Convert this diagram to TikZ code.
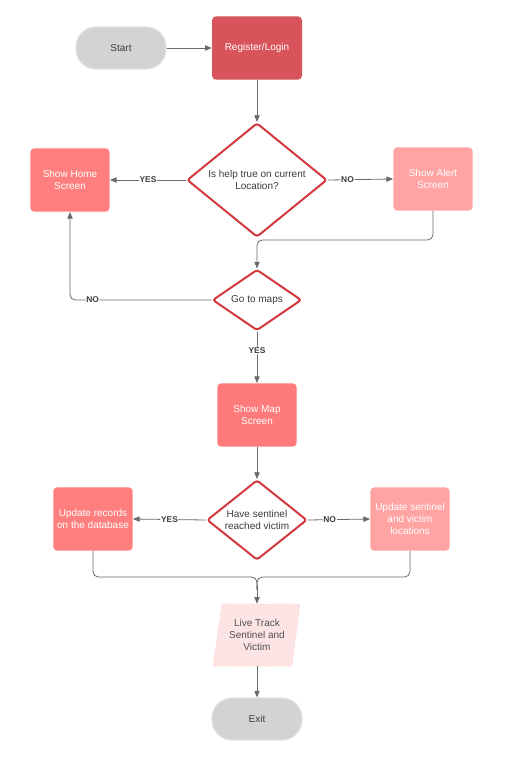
\documentclass[tikz,border=0pt]{standalone}
\usepackage{fontspec}
\setmainfont{Liberation Sans}
\usetikzlibrary{shapes.geometric,arrows.meta}
\definecolor{regred}{HTML}{D9545A}
\definecolor{salmon}{HTML}{FF7F7F}
\definecolor{pinkbox}{HTML}{FFA3A3}
\definecolor{mapred}{HTML}{FF7A7A}
\definecolor{livepink}{HTML}{FDE4E4}
\definecolor{termgray}{HTML}{D3D3D3}
\definecolor{termborder}{HTML}{E2E2E2}
\definecolor{dred}{HTML}{D2383E}
\definecolor{linegray}{HTML}{6A6A6A}
\definecolor{txtgray}{HTML}{3C3C3C}
\tikzset{
  boxtext/.style={font=\fontsize{7.5}{8.7}\selectfont, align=center},
  term/.style={boxtext, rectangle, rounded corners=15pt, fill=termgray, draw=termborder, line width=0.8pt,
    minimum width=67.5pt, minimum height=31.5pt, inner sep=0pt, text=txtgray},
  procbox/.style={boxtext, rectangle, rounded corners=3pt, inner sep=0pt, text=white,
    minimum width=59.5pt, minimum height=47.5pt},
  decision/.style={diamond, draw=dred, line width=1.5pt, fill=white, rounded corners=2pt, inner sep=0pt},
  dtext/.style={boxtext, text=txtgray},
  conn/.style={draw=linegray, line width=0.6pt, rounded corners=4pt},
  arr/.style={conn, -{Triangle[length=5pt,width=4pt]}},
  lbl/.style={font=\fontsize{6.3}{7}\selectfont\bfseries, text=txtgray, fill=white, inner sep=0.6pt}
}
\begin{document}
\begin{tikzpicture}[x=0.75pt,y=-0.75pt]
\useasboundingbox (0,0) rectangle (506,764);
\fill[white] (0,0) rectangle (506,764);

% nodes
\node[term] (start) at (121,48) {Start};
\node[procbox, fill=regred, minimum width=67.5pt] (reg) at (257,48) {Register/Login};
\node[decision, minimum width=105pt, minimum height=85.5pt] (d1) at (257,180) {};
\node[dtext] at (d1.center) {Is help true on current\\Location?};
\node[procbox, fill=salmon] (home) at (70,180) {Show Home\\Screen};
\node[procbox, fill=pinkbox] (alert) at (433,179) {Show Alert\\Screen};
\node[decision, minimum width=66.75pt, minimum height=45.75pt] (d2) at (257,300) {};
\node[dtext] at (d2.center) {Go to maps};
\node[procbox, fill=mapred] (map) at (257,415) {Show Map\\Screen};
\node[decision, minimum width=75pt, minimum height=60pt] (d3) at (257,520) {};
\node[dtext] at (d3.center) {Have sentinel\\reached victim};
\node[procbox, fill=salmon] (rec) at (93,519) {Update records\\on the database};
\node[procbox, fill=pinkbox] (sent) at (410,519) {Update sentinel\\and victim\\locations};
% live track parallelogram
\fill[livepink] (222,604) -- (300,604) -- (292,666) -- (213,666) -- cycle;
\draw[pinkbox!60, densely dotted, line width=0.4pt] (222,604) -- (300,604) -- (292,666) -- (213,666) -- cycle;
\node[dtext, text=txtgray!90, minimum width=65pt, minimum height=46.5pt, inner sep=0pt] (live) at (257,635) {Live Track\\Sentinel and\\Victim};
\node[term] (exit) at (257,719) {Exit};

% connectors
\draw[arr] (start) -- (reg);
\draw[arr] (reg) -- (d1.north);
\draw[arr] (d1.west) -- node[lbl, pos=0.5]{YES} (home.east);
\draw[arr] (d1.east) -- node[lbl, pos=0.3]{NO} (alert.west);
\coordinate (a1) at (433,240);
\coordinate (a2) at (257,240);
\draw[arr] (alert.south) -- (a1) -- (a2) -- (d2.north);
\coordinate (h1) at (70,300);
\draw[arr] (d2.west) -- node[lbl, pos=0.84]{NO} (h1) -- (home.south);
\draw[arr] (d2.south) -- node[lbl, pos=0.37]{YES} (map.north);
\draw[arr] (map.south) -- (d3.north);
\draw[arr] (d3.west) -- node[lbl, pos=0.5]{YES} (rec.east);
\draw[arr] (d3.east) -- node[lbl, pos=0.35]{NO} (sent.west);
\coordinate (m1) at (93,577);
\coordinate (m2) at (410,577);
\coordinate (mm) at (257,577);
\draw[conn] (rec.south) -- (m1) -- (mm) -- (257,590);
\draw[conn] (sent.south) -- (m2) -- (mm) -- (257,590);
\draw[arr] (257,585) -- (live.north);
\draw[arr] (live.south) -- (exit.north);
\end{tikzpicture}
\end{document}
